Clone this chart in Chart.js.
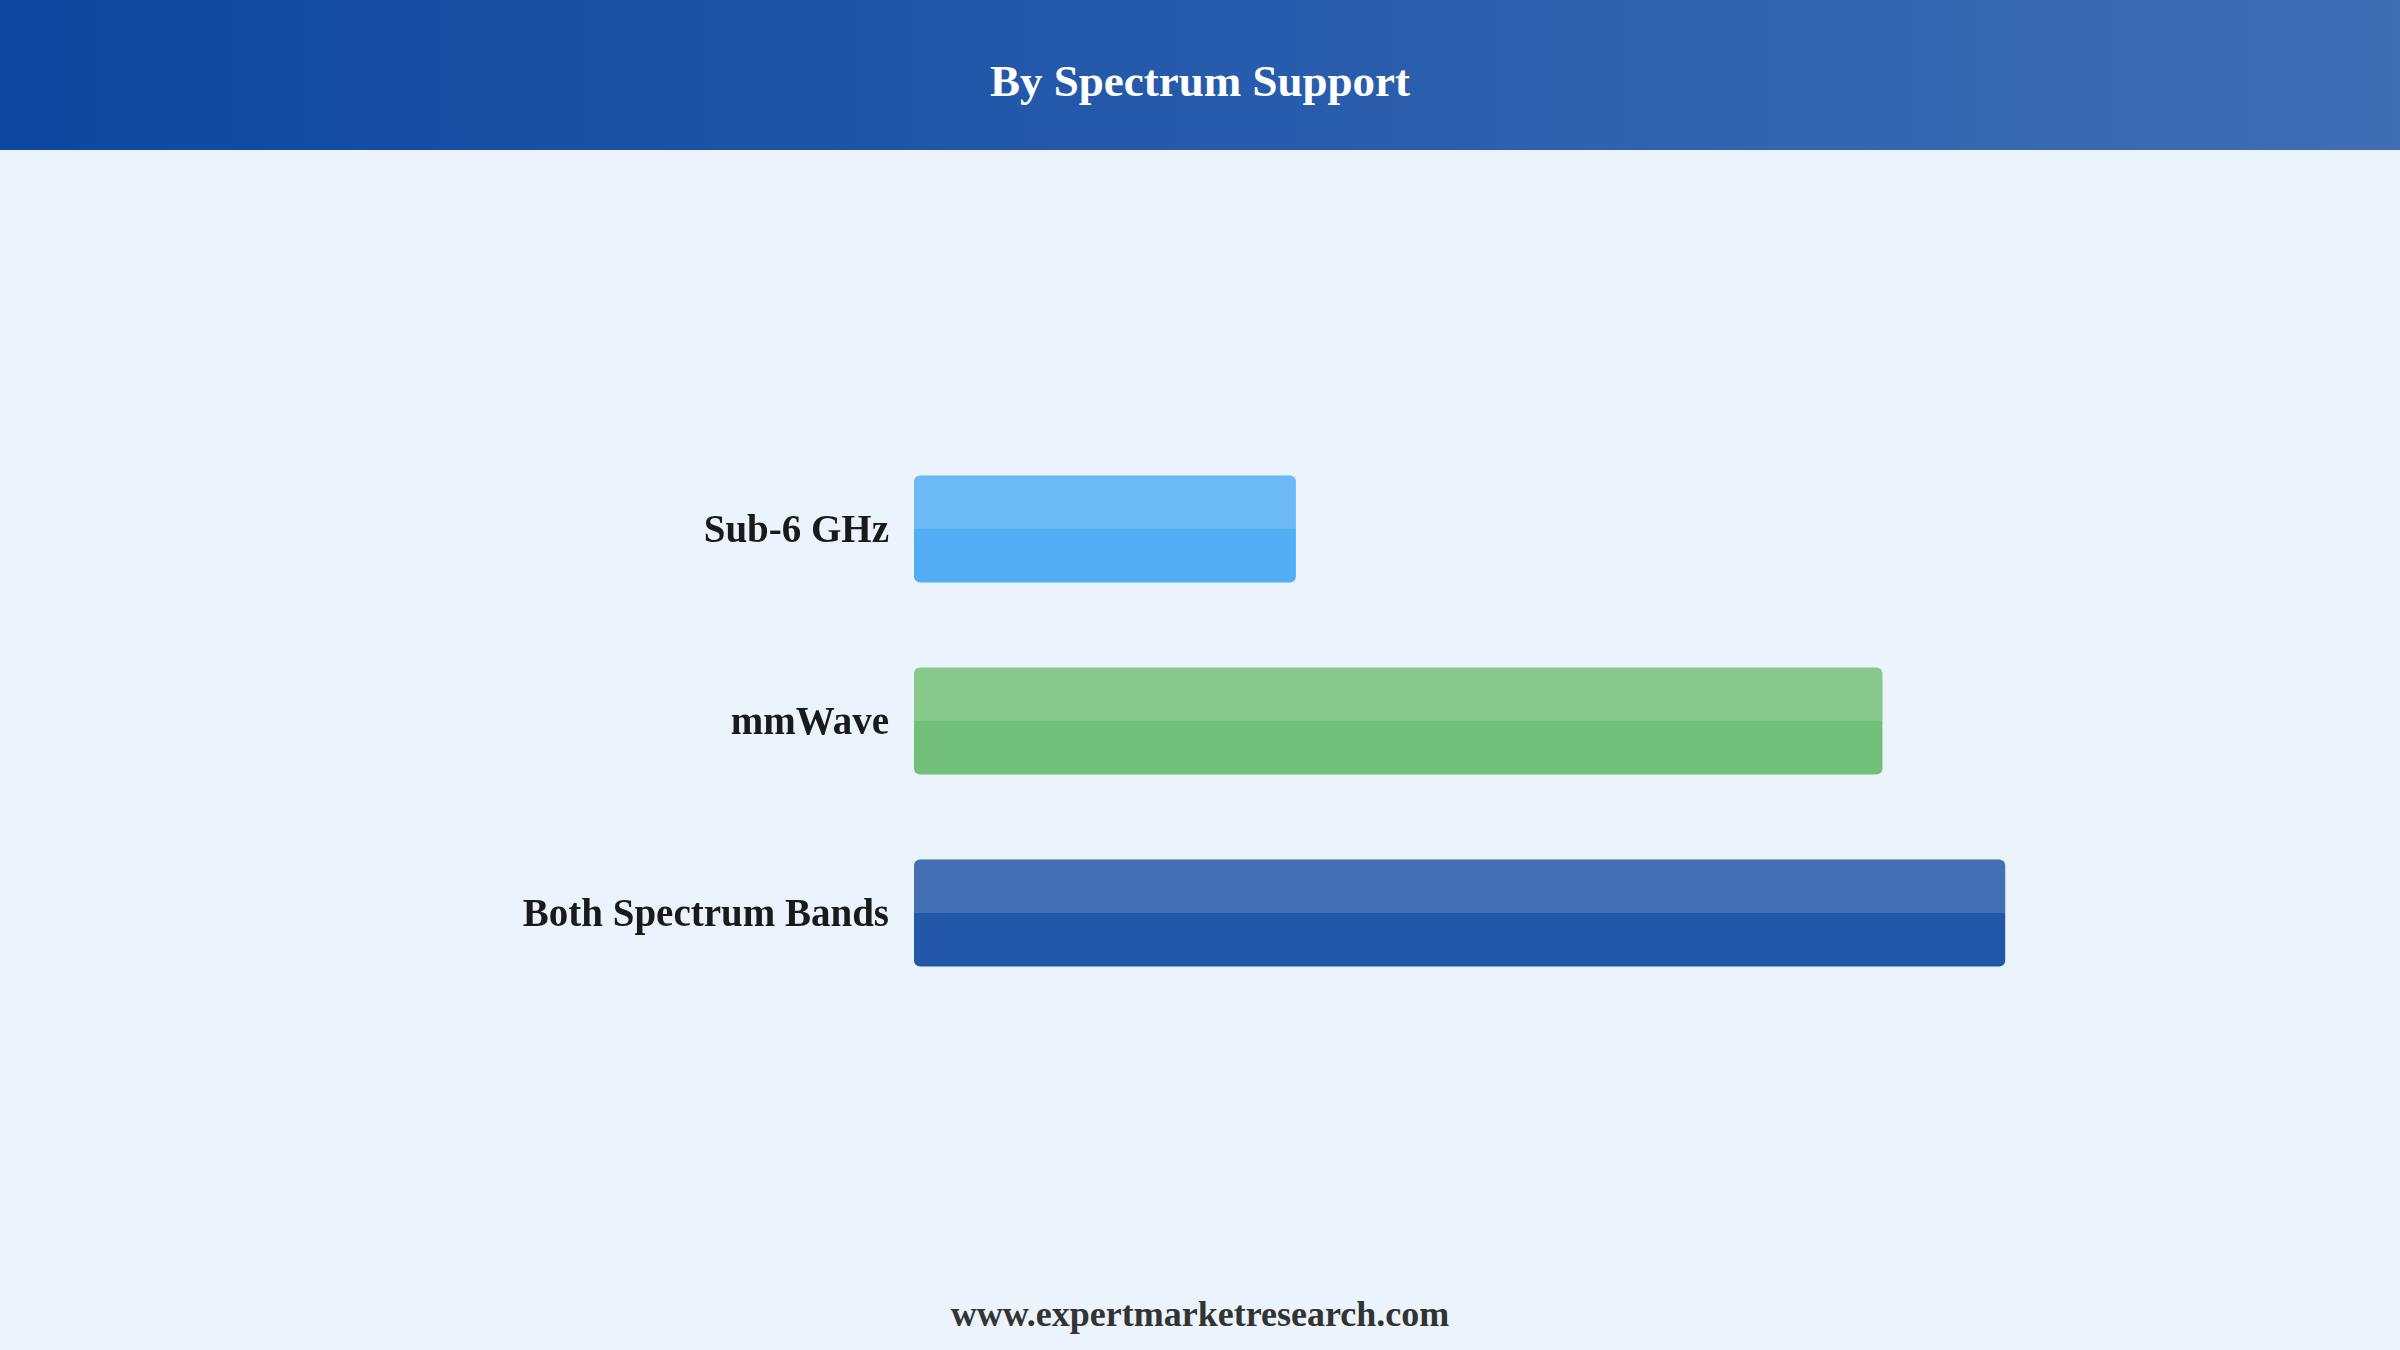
<!DOCTYPE html>
<html>
<head>
<meta charset="utf-8">
<script src="https://cdn.jsdelivr.net/npm/chart.js@4.4.1/dist/chart.umd.min.js"></script>
<style>
  html, body { margin: 0; padding: 0; }
  body {
    width: 2400px;
    height: 1350px;
    background: #ebf3fc;
    position: relative;
    overflow: hidden;
    font-family: "Liberation Serif", "Times New Roman", serif;
  }
  #header {
    height: 150px;
    background: linear-gradient(to right, #0d47a1, #3f6eb5);
    color: #fff;
    font-weight: bold;
    font-size: 45px;
    display: flex;
    align-items: center;
    justify-content: center;
    padding-top: 12px;
    box-sizing: border-box;
  }
  #chart-box {
    position: absolute;
    left: 0;
    top: 150px;
    width: 2400px;
    height: 1100px;
  }
  #footer {
    position: absolute;
    left: 0;
    width: 2400px;
    top: 1293px;
    text-align: center;
    font-weight: bold;
    font-size: 36px;
    color: #333;
  }
</style>
</head>
<body>
<div id="header">By Spectrum Support</div>
<div id="chart-box"><canvas id="chart"></canvas></div>
<div id="footer">www.expertmarketresearch.com</div>
<script>
//categories and their share
const categories = ["Sub-6 GHz", "mmWave", "Both Spectrum Bands"];
const shares = [28, 71, 80];
//bar colors
const barColors = ["#52adf4", "#72c077", "#2357a8"];

//lighter band over the top half of every bar
const topShine = {
  id: "topShine",
  afterDatasetsDraw(chart) {
    const ctx = chart.ctx;
    const meta = chart.getDatasetMeta(0);
    ctx.save();
    ctx.fillStyle = "rgba(255,255,255,0.15)";
    meta.data.forEach((bar) => {
      const left = Math.min(bar.base, bar.x);
      const w = Math.abs(bar.x - bar.base);
      const top = bar.y - bar.height / 2;
      ctx.beginPath();
      ctx.roundRect(left, top, w, bar.height / 2, [6, 6, 0, 0]);
      ctx.fill();
    });
    ctx.restore();
  },
};

new Chart(document.getElementById("chart"), {
  type: "bar",
  plugins: [topShine],
  data: {
    labels: categories,
    datasets: [
      {
        data: shares,
        backgroundColor: barColors,
        borderWidth: 0,
        borderRadius: 6,
        borderSkipped: false,
        categoryPercentage: 1,
        barPercentage: 0.557,
      },
    ],
  },
  options: {
    indexAxis: "y",
    responsive: true,
    maintainAspectRatio: false,
    animation: false,
    layout: {
      padding: { left: 0, right: 122, top: 283, bottom: 241 },
    },
    plugins: {
      legend: { display: false },
      tooltip: { enabled: false },
    },
    scales: {
      x: {
        display: false,
        min: 0,
        max: 100,
      },
      y: {
        grid: { display: false, drawTicks: false },
        border: { display: false },
        ticks: {
          padding: 25,
          labelOffset: 3,
          color: "#1a1a1a",
          font: { family: "Liberation Serif", size: 39, weight: "bold" },
        },
        afterFit(scale) {
          scale.width = 914;
        },
      },
    },
  },
});
</script>
</body>
</html>
